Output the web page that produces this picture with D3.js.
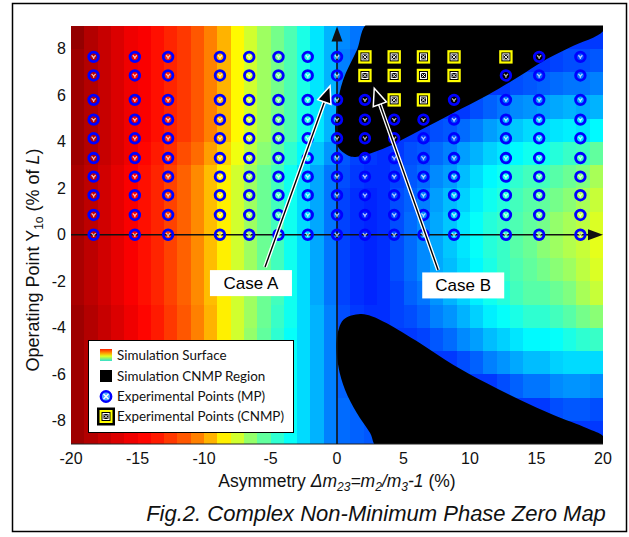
<!DOCTYPE html>
<html><head><meta charset="utf-8">
<script src="https://cdn.jsdelivr.net/npm/d3@7"></script>
<style>body{margin:0;background:#fff}svg{display:block}</style>
</head><body><svg id="c" width="629" height="537"></svg>
<script>
// ---------------- data ----------------
const xTicks = [-20, -15, -10, -5, 0, 5, 10, 15, 20];
const yTicks = [-8, -6, -4, -2, 0, 2, 4, 6, 8];

// simulation surface (colour index on a jet map, 0..100), cell centres
const surfaceX = [-19.5,-18.5,-17.5,-16.5,-15.5,-14.5,-13.5,-12.5,-11.5,-10.5,-9.5,-8.5,-7.5,-6.5,-5.5,-4.5,-3.5,-2.5,-1.5,-0.5,
                  0.5,1.5,2.5,3.5,4.5,5.5,6.5,7.5,8.5,9.5,10.5,11.5,12.5,13.5,14.5,15.5,16.5,17.5,18.5,19.5];
const surfaceY = [8.5,7.5,6.5,5.5,4.5,3.5,2.5,1.5,0.5,-0.5,-1.5,-2.5,-3.5,-4.5,-5.5,-6.5,-7.5,-8.5];
const surface = [
 [98,95,93,91,89,88,86,84,82,79,75,70,63,58,53,49,45,40,35,30, 26,24,23,22,18,18,18,18,18,18,18,18,18,18,18,18,18,18,18,18],
 [97,95,93,91,89,88,86,84,82,79,75,70,63,58,53,49,45,40,35,30, 25,23,22,21,18,18,18,18,18,18,18,18,18,18,18,18,19,20,20,21],
 [97,95,93,91,89,88,86,84,82,79,75,70,63,58,53,49,45,40,35,30, 24,22,21,20,18,18,18,18,18,18,18,18,18,20,21,22,23,24,24,25],
 [97,95,93,91,89,88,86,84,82,79,75,70,63,58,53,49,45,40,35,30, 23,21,20,19,18,18,18,18,18,18,20,22,24,26,27,28,29,30,29,30],
 [97,95,93,91,89,88,86,84,82,79,75,70,63,58,53,49,45,40,35,30, 22,20,19,18,18,18,18,20,21,23,25,28,30,32,34,34,35,36,35,37],
 [97,95,93,91,89,87,85,83,80,77,72,67,61,56,51,47,42,37,32,27, 21,19,18,17,18,20,21,23,25,28,30,33,35,37,39,39,41,43,44,47],
 [96,94,92,90,88,86,84,81,78,74,69,64,58,53,48,44,39,34,29,24, 20,18,17,17,19,21,23,26,28,31,34,37,39,42,44,44,46,48,50,54],
 [96,94,92,90,88,86,84,81,78,74,69,64,58,53,48,44,39,34,29,24, 19,17,16,17,20,22,25,28,31,33,36,39,41,44,46,47,49,51,54,57],
 [96,94,92,90,88,86,84,81,78,74,69,64,58,53,48,44,39,34,29,24, 19,17,16,17,20,23,26,29,32,35,38,41,43,45,47,49,52,54,56,59],
 [96,94,92,90,88,86,84,81,78,74,69,64,58,53,48,44,39,34,29,24, 19,17,16,17,20,23,26,29,32,35,38,41,43,46,48,51,53,55,57,60],
 [96,94,92,90,88,86,84,81,78,74,69,64,58,53,48,44,39,34,29,24, 19,17,16,17,20,23,26,29,31,34,37,40,43,45,47,49,51,53,56,59],
 [96,94,92,90,88,86,84,81,78,74,69,64,58,53,48,44,39,34,29,24, 19,17,16,17,19,22,24,27,30,33,36,39,41,44,46,46,48,50,54,57],
 [97,95,93,91,89,87,85,82,79,75,70,64,58,53,48,43,39,34,30,25, 20,18,17,17,19,20,22,25,27,30,33,36,38,40,42,42,44,46,49,51],
 [97,95,93,91,89,87,85,82,79,75,70,64,58,52,47,42,38,34,30,25, 21,19,18,18,18,18,19,21,23,26,28,31,33,35,37,37,38,40,42,43],
 [97,95,93,91,89,87,85,82,79,75,70,64,58,52,47,42,38,34,30,25, 22,20,19,19,18,18,18,18,18,20,22,25,27,29,31,31,33,34,34,34],
 [97,95,93,91,89,87,85,82,79,75,70,64,58,52,47,42,38,34,30,25, 22,21,20,20,18,18,18,18,18,18,18,18,20,22,24,24,26,27,27,26],
 [97,95,93,91,89,87,85,82,79,75,70,64,58,52,47,42,38,34,30,25, 23,22,21,20,18,18,18,18,18,18,18,18,18,18,18,18,20,21,21,20],
 [97,95,93,91,89,87,85,82,79,75,70,64,58,52,47,42,38,34,30,25, 23,22,21,21,18,18,18,18,18,18,18,18,18,18,18,18,18,18,18,18]
];

// simulated complex non-minimum-phase regions (boundary outlines)
const upperCNMP = [[2.5,9.2],[1.5,7.95],[0.46,6.66],[0.0,5.5],[-0.14,4.5],[0.08,3.77],[0.76,3.43],[1.2,3.35],
                   [2.5,3.5],[3.77,3.77],[6.25,4.5],[8.74,5.24],[11.3,6.0],[13.8,6.85],[15.3,7.4],[17.5,8.05],[20,8.75],[20.2,9.2]];
const lowerCNMP = [[1.74,-3.41],[0.48,-3.66],[-0.02,-4.52],[0.11,-5.68],[0.61,-6.68],[1.49,-7.67],[2.49,-8.53],[3.12,-9.2],
                   [20.2,-9.2],[20.05,-8.69],[18.8,-8.32],[16.28,-7.75],[13.78,-7.11],[11.27,-6.39],[8.76,-5.6],[6.25,-4.67],[3.75,-3.81],[2.6,-3.5]];

// experimental points
const expX = [-18.3,-15.2,-12.7,-8.8,-6.6,-4.4,-2.2,0,2.1,4.3,6.5,8.8,12.7,15.2,18.3];
const expY = [0,0.85,1.7,2.5,3.3,4.15,4.95,5.8,6.85,7.65];
const expCNMP = [[2.1,7.65],[4.3,7.65],[6.5,7.65],[8.8,7.65],[12.7,7.65],
                 [2.1,6.85],[4.3,6.85],[6.5,6.85],[8.8,6.85],
                 [4.3,5.8],[6.5,5.8]];

const annotations = [
  {label:"Case A", bx:-6.47, by:-2.08, fx:-5.41, fy:-1.39, tx:-0.52, ty:6.4},
  {label:"Case B", bx:9.49,  by:-2.18, fx:7.6,  fy:-1.52, tx:2.8,  ty:6.3}
];

const legendItems = ["Simulation Surface","Simulation CNMP Region","Experimental Points (MP)","Experimental Points (CNMP)"];

// ---------------- drawing ----------------
const W = 629, H = 537;
const plot = {l:71, r:603, t:25.5, b:444};
const svg = d3.select("#c");
const x = d3.scaleLinear().domain([-20,20]).range([plot.l, plot.r]);
const y = d3.scaleLinear().domain([-9,9]).range([plot.b, plot.t]);
const jet = d3.scaleLinear().domain([0,12.5,37.5,62.5,87.5,100])
  .range(["#000080","#0000ff","#00ffff","#ffff00","#ff0000","#800000"]).interpolate(d3.interpolateRgb).clamp(true);
const FONT = "'Liberation Sans', Arial, sans-serif";

svg.append("rect").attr("width",W).attr("height",H).attr("fill","#fff");

const defs = svg.append("defs");
defs.append("clipPath").attr("id","pc").append("rect")
  .attr("x",plot.l).attr("y",plot.t).attr("width",plot.r-plot.l).attr("height",plot.b-plot.t);
const lg = defs.append("linearGradient").attr("id","lgS").attr("x1",0).attr("y1",0).attr("x2",0).attr("y2",1);
[[0,"#ff2000"],[0.35,"#ffa000"],[0.6,"#e0ff20"],[1,"#30e0d0"]].forEach(s=>lg.append("stop").attr("offset",s[0]).attr("stop-color",s[1]));

const gp = svg.append("g").attr("clip-path","url(#pc)");
// heatmap cells
const cells = [];
surface.forEach((row,i)=>row.forEach((v,j)=>cells.push({cx:surfaceX[j], cy:surfaceY[i], v})));
gp.selectAll("rect.cell").data(cells).join("rect").attr("class","cell")
  .attr("x",d=>x(d.cx-0.5)).attr("y",d=>y(d.cy+0.5))
  .attr("width",d=>x(d.cx+0.5)-x(d.cx-0.5)+0.6).attr("height",d=>y(d.cy-0.5)-y(d.cy+0.5)+0.6)
  .attr("fill",d=>jet(d.v)).attr("shape-rendering","crispEdges");

// CNMP regions
const line = d3.line().x(d=>x(d[0])).y(d=>y(d[1])).curve(d3.curveCatmullRomClosed.alpha(0.5));
[upperCNMP, lowerCNMP].forEach(poly=>gp.append("path").attr("d",line(poly)).attr("fill","#000"));

// plot bottom line
svg.append("line").attr("x1",plot.l).attr("x2",plot.r).attr("y1",plot.b).attr("y2",plot.b).attr("stroke","#222").attr("stroke-width",1);

// axes through origin with arrows
const axCol = "#111";
svg.append("line").attr("x1",x(-20)).attr("x2",x(20)-12).attr("y1",y(0)).attr("y2",y(0)).attr("stroke",axCol).attr("stroke-width",1.6);
svg.append("path").attr("d",`M${x(20)},${y(0)} L${x(20)-15},${y(0)-5.5} L${x(20)-15},${y(0)+5.5}Z`).attr("fill",axCol);
svg.append("line").attr("x1",x(0)).attr("x2",x(0)).attr("y1",y(-9)).attr("y2",y(9)+14).attr("stroke",axCol).attr("stroke-width",1.6);
svg.append("path").attr("d",`M${x(0)},${y(9)+1} L${x(0)-5.5},${y(9)+16} L${x(0)+5.5},${y(9)+16}Z`).attr("fill",axCol);

// experimental points
const pts = [];
expX.forEach(px=>expY.forEach(py=>{
  const c = expCNMP.some(q=>q[0]===px && q[1]===py);
  pts.push({px,py,c});
}));
const gPts = svg.append("g");
pts.filter(d=>!d.c).forEach(d=>{
  const g = gPts.append("g").attr("transform",`translate(${x(d.px)},${y(d.py)})`);
  g.append("path").attr("d","M-2,-1.6L0,0.8L2,-1.6M0,0.8L0,2.2").attr("stroke","#fff").attr("stroke-width",1.3).attr("fill","none").attr("opacity",0.7);
  g.append("circle").attr("r",4.8).attr("fill","none").attr("stroke","#0000ff").attr("stroke-width",2.8);
});
pts.filter(d=>d.c).forEach(d=>{
  const g = gPts.append("g").attr("transform",`translate(${x(d.px)},${y(d.py)})`);
  g.append("rect").attr("x",-5.6).attr("y",-5.6).attr("width",11.2).attr("height",11.2).attr("fill","#000").attr("stroke","#ffff00").attr("stroke-width",2.2);
  g.append("rect").attr("x",-3).attr("y",-3).attr("width",6).attr("height",6).attr("fill","none").attr("stroke","#fff").attr("stroke-width",1);
  g.append("path").attr("d","M-2,-2L2,2M-2,2L2,-2").attr("stroke","#fff").attr("stroke-width",1);
});

// annotation arrows and boxes
annotations.forEach(a=>{
  const x1=x(a.fx), y1=y(a.fy), x2=x(a.tx), y2=y(a.ty);
  const dx=x2-x1, dy=y2-y1, L=Math.hypot(dx,dy), ux=dx/L, uy=dy/L;
  const hl=17, hw=7;
  const bxp=x2-ux*hl, byp=y2-uy*hl;
  svg.append("line").attr("x1",x1).attr("y1",y1).attr("x2",bxp).attr("y2",byp).attr("stroke","#fff").attr("stroke-width",4);
  svg.append("line").attr("x1",x1).attr("y1",y1).attr("x2",bxp).attr("y2",byp).attr("stroke","#000").attr("stroke-width",1.4);
  svg.append("path").attr("d",`M${x2},${y2} L${bxp-uy*hw},${byp+ux*hw} L${bxp+uy*hw},${byp-ux*hw}Z`)
    .attr("fill","#000").attr("stroke","#fff").attr("stroke-width",1.5).attr("stroke-linejoin","miter");
  svg.append("rect").attr("x",x(a.bx)-41).attr("y",y(a.by)-13).attr("width",82).attr("height",26).attr("fill","#fff");
  svg.append("text").attr("x",x(a.bx)).attr("y",y(a.by)+6).attr("text-anchor","middle")
    .attr("font-family",FONT).attr("font-size",17).attr("fill","#000").text(a.label);
});

// legend
const lgx=88.5, lgy=340.5;
svg.append("rect").attr("x",lgx).attr("y",lgy).attr("width",205).attr("height",92).attr("fill","#fff").attr("stroke","#000").attr("stroke-width",1);
const rowsY=[355,376,396.5,416.5];
legendItems.forEach((t,i)=>{
  svg.append("text").attr("x",117).attr("y",rowsY[i]+4.8).attr("font-family","Lato, 'Noto Sans', sans-serif")
    .attr("font-size",13.4).attr("fill","#111").text(t);
});
svg.append("rect").attr("x",100).attr("y",rowsY[0]-6).attr("width",12).attr("height",12).attr("fill","url(#lgS)");
svg.append("rect").attr("x",100).attr("y",rowsY[1]-6).attr("width",12).attr("height",12).attr("fill","#000");
svg.append("circle").attr("cx",106).attr("cy",rowsY[2]).attr("r",5.2).attr("fill","#50b0ff").attr("stroke","#0000ff").attr("stroke-width",2.4);
svg.append("path").attr("d",`M103.5,${rowsY[2]-2.5}L108.5,${rowsY[2]+2.5}M103.5,${rowsY[2]+2.5}L108.5,${rowsY[2]-2.5}`).attr("stroke","#fff").attr("stroke-width",1.4);
svg.append("rect").attr("x",97).attr("y",rowsY[3]-9).attr("width",18).attr("height",18).attr("fill","#000");
svg.append("rect").attr("x",100.5).attr("y",rowsY[3]-5.5).attr("width",11).attr("height",11).attr("fill","#000").attr("stroke","#ffff00").attr("stroke-width",2);
svg.append("rect").attr("x",103).attr("y",rowsY[3]-3).attr("width",6).attr("height",6).attr("fill","none").attr("stroke","#fff").attr("stroke-width",1);
svg.append("path").attr("d",`M104,${rowsY[3]-2}L108,${rowsY[3]+2}M104,${rowsY[3]+2}L108,${rowsY[3]-2}`).attr("stroke","#fff").attr("stroke-width",1);

// tick labels
svg.append("g").selectAll("text").data(xTicks).join("text")
  .attr("x",d=>x(d)).attr("y",464).attr("text-anchor","middle").attr("font-family",FONT).attr("font-size",16).attr("fill","#111").text(d=>d);
svg.append("g").selectAll("text").data(yTicks).join("text")
  .attr("x",66).attr("y",d=>y(d)+5.5).attr("text-anchor","end").attr("font-family",FONT).attr("font-size",16).attr("fill","#111").text(d=>d);

// axis titles
const xt = svg.append("text").attr("x",(plot.l+plot.r)/2).attr("y",487).attr("text-anchor","middle")
  .attr("font-family",FONT).attr("font-size",17.5).attr("fill","#111");
xt.append("tspan").text("Asymmetry ");
xt.append("tspan").attr("font-style","italic").text("Δm");
xt.append("tspan").attr("font-style","italic").attr("font-size",12).attr("dy",4).text("23");
xt.append("tspan").attr("font-style","italic").attr("dy",-4).text("=m");
xt.append("tspan").attr("font-style","italic").attr("font-size",12).attr("dy",4).text("2");
xt.append("tspan").attr("font-style","italic").attr("dy",-4).text("/m");
xt.append("tspan").attr("font-style","italic").attr("font-size",12).attr("dy",4).text("3");
xt.append("tspan").attr("font-style","italic").attr("dy",-4).text("-1");
xt.append("tspan").text(" (%)");

const yt = svg.append("text").attr("transform",`translate(39,260) rotate(-90)`).attr("text-anchor","middle")
  .attr("font-family",FONT).attr("font-size",18).attr("fill","#111");
yt.append("tspan").text("Operating Point Y");
yt.append("tspan").attr("font-size",12).attr("dy",4).text("1o");
yt.append("tspan").attr("dy",-4).text(" (% of ");
yt.append("tspan").attr("font-style","italic").text("L");
yt.append("tspan").text(")");

// caption
svg.append("text").attr("x",376).attr("y",521).attr("text-anchor","middle").attr("font-family",FONT)
  .attr("font-style","italic").attr("font-size",22).attr("fill","#111").text("Fig.2. Complex Non-Minimum Phase Zero Map");

// outer frame
svg.append("rect").attr("x",12.5).attr("y",3.5).attr("width",614).attr("height",528).attr("fill","none").attr("stroke","#000").attr("stroke-width",1.5);
</script></body></html>
